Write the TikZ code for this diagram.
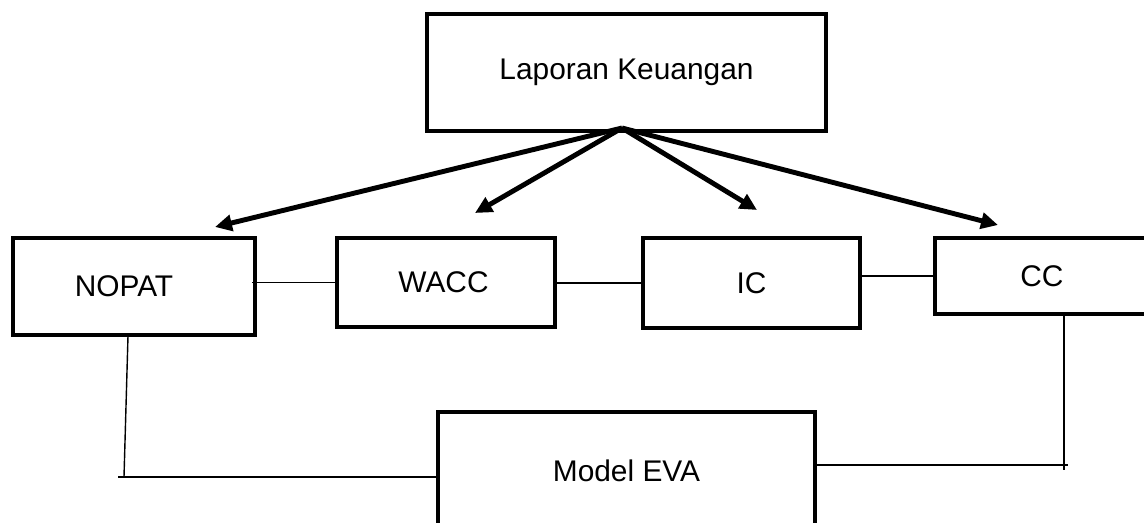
\documentclass[tikz,border=0pt]{standalone}
\usepackage{fontspec}
\setmainfont{Liberation Sans}
\usetikzlibrary{arrows.meta}

\tikzset{
    kotak/.style={rectangle, draw, line width=2.6pt, font=\fontsize{17}{20}\selectfont, inner sep=0pt},
    panah/.style={line width=2.8pt, -{Triangle[length=0.34cm, width=0.32cm]}},
    garis/.style={line width=0.8pt}
}

\begin{document}
\begin{tikzpicture}[x=0.02cm, y=-0.02cm]
    \useasboundingbox (0,0) rectangle (1144,522);

    % Kotak-kotak
    \node[kotak, minimum width=7.98cm, minimum height=2.34cm] (lap) at (626.5,72.5) {Laporan Keuangan};
    \foreach \nama/\teks/\px/\py/\lb/\tg/\geser in {nopat/NOPAT/134/286.5/4.84/1.94/-0.4, wacc/WACC/446/282.5/4.36/1.78/-0.1, ic/IC/751.5/283/4.34/1.8/0, cc/CC/1042/276/4.28/1.52/0} {
        \node[kotak, minimum width=\lb cm, minimum height=\tg cm, text width=\lb cm-0.1cm, align=center] (\nama) at (\px,\py) {\hspace*{\geser cm}\teks};
    }
    \node[kotak, minimum width=7.54cm, minimum height=2.36cm] (eva) at (626.5,471) {Model EVA};

    % Panah dari laporan keuangan
    \coordinate (pusat) at (622,128);
    \foreach \i/\px/\py in {1/215/227, 2/475/213, 3/757/210, 4/998/225} {
        \coordinate (ujung\i) at (\px,\py);
        \draw[panah] (pusat) -- (ujung\i);
    }

    % Garis antar kotak
    \draw[garis] ([xshift=-3pt]nopat.east |- wacc.west) -- (wacc.west);
    \draw[garis] (wacc.east |- ic.west) -- (ic.west);
    \draw[garis] (ic.east |- cc.west) -- (cc.west);

    % Garis ke model EVA
    \coordinate (kiri) at (124,477);
    \coordinate (kiriujung) at (118,477);
    \draw[garis] (128,336) coordinate (kiriatas) -- (kiri);
    \draw[garis] (kiriujung) -- (eva.west |- kiri);
    \coordinate (kanan) at (1064,465);
    \coordinate (kananbawah) at (1064,470);
    \draw[garis] (cc.south -| kanan) -- (kananbawah);
    \draw[garis] (eva.east |- kanan) -- ([xshift=2pt]kanan);
\end{tikzpicture}
\end{document}
